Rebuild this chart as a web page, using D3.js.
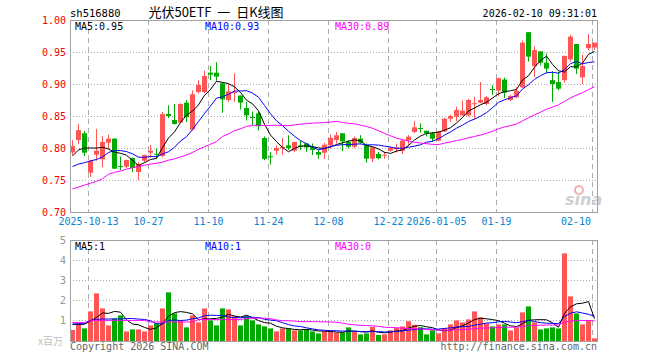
<!DOCTYPE html>
<html><head><meta charset="utf-8">
<script src="https://cdn.jsdelivr.net/npm/d3@7"></script>
<style>body{margin:0;background:#fff}svg{display:block}</style>
</head><body>
<svg id="c" width="660" height="360"></svg>
<script>
// ---------- DATA ----------
const dates = ["2025-09-30","2025-10-09","2025-10-10",
"2025-10-13","2025-10-14","2025-10-15","2025-10-16","2025-10-17",
"2025-10-20","2025-10-21","2025-10-22","2025-10-23","2025-10-24",
"2025-10-27","2025-10-28","2025-10-29","2025-10-30","2025-10-31",
"2025-11-03","2025-11-04","2025-11-05","2025-11-06","2025-11-07",
"2025-11-10","2025-11-11","2025-11-12","2025-11-13","2025-11-14",
"2025-11-17","2025-11-18","2025-11-19","2025-11-20","2025-11-21",
"2025-11-24","2025-11-25","2025-11-26","2025-11-27","2025-11-28",
"2025-12-01","2025-12-02","2025-12-03","2025-12-04","2025-12-05",
"2025-12-08","2025-12-09","2025-12-10","2025-12-11","2025-12-12",
"2025-12-15","2025-12-16","2025-12-17","2025-12-18","2025-12-19",
"2025-12-22","2025-12-23","2025-12-24","2025-12-25","2025-12-26",
"2025-12-29","2025-12-30","2025-12-31",
"2026-01-05","2026-01-06","2026-01-07","2026-01-08","2026-01-09",
"2026-01-12","2026-01-13","2026-01-14","2026-01-15","2026-01-16",
"2026-01-19","2026-01-20","2026-01-21","2026-01-22","2026-01-23",
"2026-01-26","2026-01-27","2026-01-28","2026-01-29","2026-01-30",
"2026-02-02","2026-02-03","2026-02-04","2026-02-05","2026-02-06",
"2026-02-09","2026-02-10"];

const open = [0.793,0.8125,0.823,0.7615,0.7896,0.7823,0.8083,0.8146,0.7719,0.7708,
0.7844,0.7625,0.7802,0.7927,0.791,0.7875,0.8531,0.84375,0.8396,0.8708,
0.829,0.8875,0.8875,0.9177,0.9177,0.901,0.875,0.8865,0.882,0.8625,
0.8485,0.854,0.8156,0.787,0.7958,0.8005,0.804,0.7958,0.8042,0.807,
0.8016,0.7938,0.7927,0.8042,0.8125,0.823,0.8094,0.802,0.8146,0.805,
0.7833,0.7906,0.7885,0.7958,0.798,0.7958,0.8125,0.825,0.8313,0.827,
0.823,0.8115,0.826,0.8458,0.849,0.851,0.851,0.8693,0.8708,0.8688,
0.8922,0.8896,0.907,0.875,0.8792,0.8948,0.981,0.928,0.951,0.9333,
0.906,0.903,0.906,0.9385,0.9625,0.9104,0.956,0.957];
const high = [0.812,0.8375,0.8266,0.781,0.830,0.8188,0.8208,0.815,0.7865,0.782,
0.785,0.778,0.7896,0.8047,0.799,0.8563,0.8667,0.8688,0.870,0.875,
0.890,0.906,0.9208,0.928,0.934,0.903,0.900,0.9167,0.882,0.872,
0.857,0.856,0.818,0.7938,0.804,0.8156,0.820,0.810,0.8115,0.808,
0.807,0.797,0.808,0.821,0.825,0.823,0.8125,0.818,0.820,0.807,
0.802,0.7938,0.7938,0.802,0.807,0.8125,0.820,0.8417,0.8385,0.827,
0.825,0.827,0.847,0.852,0.8646,0.874,0.877,0.880,0.903,0.881,
0.898,0.910,0.910,0.883,0.895,0.968,0.981,0.959,0.951,0.948,
0.920,0.919,0.944,0.977,0.9625,0.946,0.978,0.9646];
const low = [0.789,0.806,0.7875,0.755,0.7802,0.7698,0.799,0.767,0.7656,0.7688,
0.7625,0.750,0.778,0.7844,0.7844,0.7854,0.8469,0.8365,0.839,0.8406,
0.827,0.885,0.886,0.906,0.905,0.855,0.872,0.872,0.860,0.843,
0.836,0.827,0.781,0.774,0.7896,0.7896,0.797,0.794,0.797,0.794,
0.789,0.783,0.783,0.799,0.807,0.795,0.7995,0.800,0.806,0.777,
0.778,0.7823,0.7833,0.794,0.7927,0.7906,0.804,0.823,0.824,0.818,
0.810,0.810,0.825,0.8406,0.8417,0.850,0.849,0.845,0.870,0.8667,
0.883,0.881,0.878,0.873,0.878,0.894,0.935,0.911,0.929,0.917,
0.872,0.890,0.902,0.935,0.9156,0.900,0.953,0.953];
const close = [0.803,0.828,0.7927,0.780,0.7958,0.8094,0.8146,0.7677,0.771,0.7813,
0.7688,0.775,0.789,0.7958,0.790,0.853,0.850,0.8375,0.86875,0.848,
0.884,0.8984,0.9125,0.9146,0.9115,0.876,0.8885,0.8875,0.871,0.851,
0.847,0.834,0.783,0.786,0.800,0.8015,0.800,0.8094,0.8036,0.801,
0.797,0.7896,0.8052,0.8156,0.8198,0.8104,0.802,0.8156,0.8083,0.7833,
0.801,0.784,0.7895,0.800,0.801,0.8115,0.8177,0.8323,0.8302,0.823,
0.8146,0.825,0.8458,0.850,0.8594,0.8583,0.875,0.870,0.875,0.8792,
0.891,0.909,0.8865,0.8813,0.8896,0.9646,0.9427,0.953,0.9333,0.924,
0.900,0.8927,0.944,0.974,0.924,0.928,0.9625,0.9646];
// volume, millions of shares
const volume = [0.50,0.83,0.58,1.43,2.33,1.58,0.73,1.08,1.23,0.43,
0.53,0.53,0.43,0.73,0.83,1.58,2.38,1.33,0.98,0.63,
1.23,0.88,1.58,0.98,0.73,1.58,1.53,1.18,0.73,1.18,
0.98,0.78,0.68,0.58,0.43,0.58,0.58,0.48,0.48,0.53,
0.43,0.33,0.43,0.42,0.37,0.38,0.63,0.42,0.28,0.33,
0.65,0.25,0.28,0.48,0.60,0.68,0.94,0.76,0.64,0.28,
0.48,0.33,0.58,0.78,0.98,0.88,1.03,1.43,1.13,0.83,
0.68,0.78,0.78,0.48,0.63,1.38,1.68,0.88,0.53,0.58,
0.63,0.58,4.33,2.18,1.33,0.78,0.98,0.08];
// moving-average values before a full window exists
const ma5Head  = [0.7875,0.797,0.800,0.800];
const ma10Head = [0.771,0.775,0.777,0.780,0.782,0.786,0.793,0.796,0.796];
const ma30Head = [0.736,0.739,0.742,0.745,0.748,0.752,0.759,0.762,0.764,0.767,
0.769,0.771,0.773,0.775,0.776,0.778,0.781,0.783,0.786,0.789,
0.793,0.798,0.802,0.806,0.810,0.818,0.822,0.827,0.830];
const vma5Head  = [0.78,0.78,0.79,0.95];
const vma10Head = [0.80,0.81,0.82,0.98,1.03,1.05,1.05,1.05,1.05];
const vma30Head = [0.87,0.87,0.87,0.98,0.98,0.98,0.98,0.98,0.98,0.98,
0.98,0.98,0.98,0.90,0.90,0.90,0.90,0.90,0.90,0.90,
0.90,1.02,1.02,1.02,1.02,1.02,1.02,1.02,1.02];
const tickDates  = ["2025-10-13","2025-10-27","2025-11-10","2025-11-24","2025-12-08","2025-12-22","2026-01-05","2026-01-19","2026-02-10"];
const tickLabels = ["2025-10-13","10-27","11-10","11-24","12-08","12-22","2026-01-05","01-19","02-10"];
const priceTicks = [0.70,0.75,0.80,0.85,0.90,0.95,1.00];
const volTicks   = [1,2,3,4,5];
const priceMaLabels = ["MA5:0.95","MA10:0.93","MA30:0.89"];
const volMaLabels   = ["MA5:1","MA10:1","MA30:0"];
const maColors = ["#000000","#0000ff","#ff00ff"];

// ---------- DRAW ----------
const svg = d3.select("#c");
const L = 70, R = 597, T = 20, B = 212, VT = 240, VB = 341;
const RED = "#ff5555", GREEN = "#00aa00";
const MONO = "'DejaVu Sans Mono', 'Liberation Mono', monospace";

const x = d3.scaleBand().domain(dates).range([L, R]).paddingInner(1/6).paddingOuter(0).align(0);
const y = d3.scaleLinear().domain([0.70, 1.00]).range([B, T]);
const yv = d3.scaleLinear().domain([0, 5]).range([VB - 1, VT]);

function ma(arr, n, head) {
  return arr.map((_, i) => i < n - 1 ? head[i] : d3.mean(arr.slice(i - n + 1, i + 1)));
}
const pMA = [ma(close, 5, ma5Head), ma(close, 10, ma10Head), ma(close, 30, ma30Head)];
const vMA = [ma(volume, 5, vma5Head), ma(volume, 10, vma10Head), ma(volume, 30, vma30Head)];
const cx = d => Math.round(x(d)) + 2.5;
const up = i => close[i] >= open[i];

// header texts
svg.append("text").attr("x", L).attr("y", 17).attr("font-family", MONO).attr("font-size", 10.5)
  .attr("fill", "#000").text("sh516880");
svg.append("text").attr("x", 216).attr("y", 16.5).attr("text-anchor", "middle")
  .attr("font-family", "'Noto Sans CJK SC', sans-serif").attr("font-size", 13).attr("fill", "#000")
  .attr("xml:space", "preserve").style("white-space", "pre")
  .text("光伏50ETF  一  日K线图");
svg.append("text").attr("x", R).attr("y", 17).attr("text-anchor", "end").attr("font-family", MONO)
  .attr("font-size", 10).attr("fill", "#000").text("2026-02-10 09:31:01");

// grids
function grids(top, bottom, yScale, ticks) {
  const g = svg.append("g");
  g.selectAll("line.h").data(ticks).join("line")
    .attr("x1", L).attr("x2", R)
    .attr("y1", d => Math.round(yScale(d)) + 0.5).attr("y2", d => Math.round(yScale(d)) + 0.5)
    .attr("stroke", "#aaa").attr("stroke-dasharray", "1,2");
  g.selectAll("line.v").data(tickDates).join("line")
    .attr("x1", d => Math.round(x(d)) + 0.5).attr("x2", d => Math.round(x(d)) + 0.5)
    .attr("y1", top).attr("y2", bottom)
    .attr("stroke", "#aaa").attr("stroke-dasharray", "5,4");
}
grids(T, B, y, priceTicks.filter(v => v > 0.71 && v < 0.99));
grids(VT, VB, yv, volTicks.filter(v => v < 5));

// price axis labels
svg.append("g").selectAll("text").data(priceTicks).join("text")
  .attr("x", 66).attr("y", d => y(d) + 4).attr("text-anchor", "end")
  .attr("font-family", MONO).attr("font-size", 10).attr("fill", "#ee0000")
  .text(d => d3.format(".2f")(d));
// date labels
svg.append("g").selectAll("text").data(tickDates).join("text")
  .attr("x", (d, i) => i === tickDates.length - 1 ? Math.round(x(d)) - 1 : Math.round(x(d)) + 0.5)
  .attr("y", 225)
  .attr("text-anchor", (d, i) => i === tickDates.length - 1 ? "end" : "middle")
  .attr("font-family", MONO).attr("font-size", 10).attr("fill", "#0a84d0")
  .text((d, i) => tickLabels[i]);
// volume axis labels
svg.append("g").selectAll("text").data(volTicks).join("text")
  .attr("x", 66).attr("y", d => yv(d) + 4).attr("text-anchor", "end")
  .attr("font-family", MONO).attr("font-size", 10.5).attr("fill", "#999")
  .text(d => d);

// watermark
const wm = svg.append("g");
wm.append("circle").attr("cx", 579).attr("cy", 190).attr("r", 4).attr("fill", "none")
  .attr("stroke", "#f2b0b0").attr("stroke-width", 2);
wm.append("text").attr("x", 565).attr("y", 205).attr("font-family", "'DejaVu Sans', sans-serif")
  .attr("font-size", 16).attr("font-style", "italic").attr("font-weight", "bold")
  .attr("fill", "#d0d0d0").text("sina");

// candles
const cg = svg.append("g");
dates.forEach((d, i) => {
  const col = up(i) ? RED : GREEN;
  cg.append("line").attr("x1", cx(d)).attr("x2", cx(d))
    .attr("y1", y(high[i])).attr("y2", y(low[i])).attr("stroke", col);
  const yt = y(Math.max(open[i], close[i])), yb = y(Math.min(open[i], close[i]));
  cg.append("rect").attr("x", Math.round(x(d))).attr("width", x.bandwidth())
    .attr("y", yt).attr("height", Math.max(1, yb - yt)).attr("fill", col);
});

// price MA lines
svg.append("clipPath").attr("id", "pc").append("rect").attr("x", L).attr("y", T).attr("width", R - L).attr("height", B - T);
svg.append("clipPath").attr("id", "vc").append("rect").attr("x", L).attr("y", VT).attr("width", R - L).attr("height", VB - VT);
pMA.forEach((s, k) => {
  svg.append("path").datum(s).attr("clip-path", "url(#pc)")
    .attr("d", d3.line().x((v, i) => cx(dates[i])).y(v => y(v)))
    .attr("fill", "none").attr("stroke", maColors[k]).attr("stroke-width", 1);
});

// volume bars
svg.append("g").selectAll("rect").data(dates).join("rect")
  .attr("x", d => Math.round(x(d))).attr("width", x.bandwidth())
  .attr("y", (d, i) => yv(volume[i])).attr("height", (d, i) => yv(0) - yv(volume[i]) + 1)
  .attr("fill", (d, i) => up(i) ? RED : GREEN);
vMA.forEach((s, k) => {
  svg.append("path").datum(s).attr("clip-path", "url(#vc)")
    .attr("d", d3.line().x((v, i) => cx(dates[i])).y(v => yv(v)))
    .attr("fill", "none").attr("stroke", maColors[k]).attr("stroke-width", 1);
});

// frames
[[T, B], [VT, VB]].forEach(([t, b]) => {
  svg.append("rect").attr("x", L + 0.5).attr("y", t + 0.5).attr("width", R - L).attr("height", b - t)
    .attr("fill", "none").attr("stroke", "#a0a0a0");
});

// legends
const lx = [75, 205, 335];
priceMaLabels.forEach((t, k) => svg.append("text").attr("x", lx[k]).attr("y", 30)
  .attr("font-family", MONO).attr("font-size", 10).attr("fill", maColors[k]).text(t));
volMaLabels.forEach((t, k) => svg.append("text").attr("x", lx[k]).attr("y", 250)
  .attr("font-family", MONO).attr("font-size", 10).attr("fill", maColors[k]).text(t));

// footer
svg.append("text").attr("x", 63).attr("y", 345).attr("text-anchor", "end")
  .attr("font-family", "'Noto Sans CJK SC', sans-serif").attr("font-size", 10).attr("fill", "#c0c0c0").text("x百万");
svg.append("text").attr("x", L).attr("y", 350).attr("font-family", MONO).attr("font-size", 10)
  .attr("fill", "#666").text("Copyright 2026 SINA.COM");
svg.append("text").attr("x", R).attr("y", 350).attr("text-anchor", "end").attr("font-family", MONO)
  .attr("font-size", 10).attr("fill", "#666").text("http://finance.sina.com.cn");
</script>
</body></html>
